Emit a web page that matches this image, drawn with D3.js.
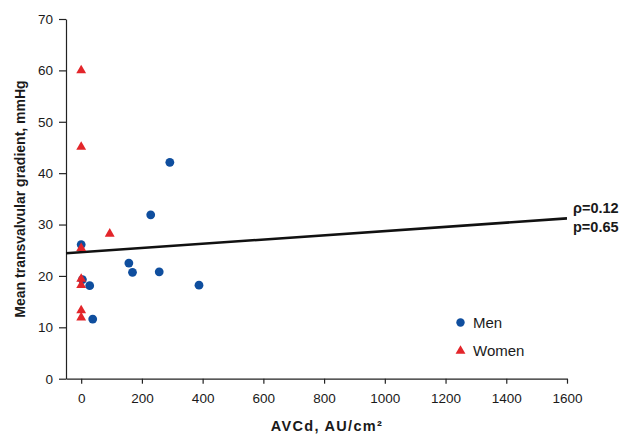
<!DOCTYPE html>
<html>
<head>
<meta charset="utf-8">
<script src="https://cdn.jsdelivr.net/npm/d3@7"></script>
<style>
body { margin: 0; background: #fff; }
svg text { font-family: "Liberation Sans", Arial, sans-serif; fill: #1a1a1a; }
</style>
</head>
<body>
<svg id="chart" width="625" height="435"></svg>
<script>
// men: AVCd vs gradient
var menX = [292, 229, 0, 157, 169, 257, 388, 4, 28, 38];
var menY = [42.1, 31.9, 26.1, 22.5, 20.7, 20.8, 18.2, 19.3, 18.1, 11.6];
// women
var womenX = [0, 0, 94, 0, 0, 0, 0, 0];
var womenY = [60.0, 45.1, 28.2, 25.4, 19.4, 18.2, 13.3, 11.9];
// regression line end points
var lineX = [-50, 1600];
var lineY = [24.4, 31.2];
var xTicks = [0, 200, 400, 600, 800, 1000, 1200, 1400, 1600];
var yTicks = [0, 10, 20, 30, 40, 50, 60, 70];
var statLabels = ["\u03c1=0.12", "p=0.65"];
var legendLabels = ["Men", "Women"];

var blue = "#0f4e9e";
var red = "#e3252a";

var svg = d3.select("#chart");
var x = d3.scaleLinear().domain([-50, 1600]).range([66, 567]);
var y = d3.scaleLinear().domain([0, 70]).range([378.7, 19]);

// axes
var yAxis = svg.append("g")
    .attr("transform", "translate(66,0)")
    .call(d3.axisLeft(y).tickValues(yTicks).tickSize(7).tickSizeOuter(0).tickPadding(6));
var xAxis = svg.append("g")
    .attr("transform", "translate(0,378.7)")
    .call(d3.axisBottom(x).tickValues(xTicks).tickFormat(d3.format("d"))
        .tickSize(5).tickSizeOuter(0).tickPadding(10));

[xAxis, yAxis].forEach(function(a) {
    a.selectAll("path, line").attr("stroke", "#222").attr("stroke-width", 1.2);
    a.selectAll("text").style("font-size", "13.5px").attr("fill", "#1a1a1a");
});

// regression line
svg.append("line")
    .attr("x1", x(lineX[0])).attr("y1", y(lineY[0]))
    .attr("x2", x(lineX[1])).attr("y2", y(lineY[1]))
    .attr("stroke", "#111")
    .attr("stroke-width", 2.6);

// men points
svg.selectAll(".men").data(menX).enter().append("circle")
    .attr("class", "men")
    .attr("cx", function(d) { return x(d); })
    .attr("cy", function(d, i) { return y(menY[i]); })
    .attr("r", 4.4)
    .attr("fill", blue);

// women points
var tri = d3.symbol().type(d3.symbolTriangle).size(42);
svg.selectAll(".women").data(womenX).enter().append("path")
    .attr("class", "women")
    .attr("d", tri)
    .attr("transform", function(d, i) { return "translate(" + x(d) + "," + y(womenY[i]) + ")"; })
    .attr("fill", red);

// stats
svg.selectAll(".stat").data(statLabels).enter().append("text")
    .attr("x", 573)
    .attr("y", function(d, i) { return 213 + i * 19; })
    .style("font-size", "14.5px")
    .style("font-weight", "bold")
    .text(function(d) { return d; });

// legend
svg.append("circle").attr("cx", 460.5).attr("cy", 322.5).attr("r", 4.2).attr("fill", blue);
svg.append("path").attr("d", tri).attr("transform", "translate(460.5,351)").attr("fill", red);
svg.selectAll(".leg").data(legendLabels).enter().append("text")
    .attr("x", 473)
    .attr("y", function(d, i) { return 328 + i * 28; })
    .style("font-size", "15px")
    .text(function(d) { return d; });

// axis titles
svg.append("text")
    .attr("x", 327).attr("y", 431)
    .attr("text-anchor", "middle")
    .style("font-size", "14.5px")
    .style("font-weight", "bold")
    .style("letter-spacing", "1.3px")
    .text("AVCd, AU/cm\u00b2");

svg.append("text")
    .attr("transform", "translate(25,199) rotate(-90)")
    .attr("text-anchor", "middle")
    .style("font-size", "14px")
    .style("font-weight", "bold")
    .text("Mean transvalvular gradient, mmHg");
</script>
</body>
</html>
